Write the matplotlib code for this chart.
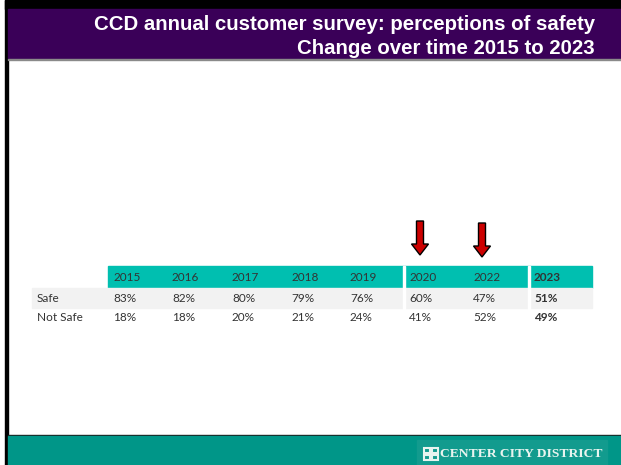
import matplotlib.pyplot as plt
from matplotlib.patches import Rectangle, FancyArrow

# survey data
years = ['2015', '2016', '2017', '2018', '2019', '2020', '2022', '2023']
safe = [83, 82, 80, 79, 76, 60, 47, 51]
not_safe = [18, 18, 20, 21, 24, 41, 52, 49]
row_labels = ['Safe', 'Not Safe']
arrow_years = ['2020', '2022']
title_lines = ['CCD annual customer survey: perceptions of safety',
               'Change over time 2015 to 2023']

W, H = 621, 465
fig = plt.figure(figsize=(W / 100, H / 100), dpi=100)
ax = fig.add_axes([0, 0, 1, 1])
ax.set_xlim(0, W)
ax.set_ylim(H, 0)
ax.axis('off')

# frame: top black band, left rule, purple header
ax.add_patch(Rectangle((5, 0), W - 5, 9, color='black'))
ax.add_patch(Rectangle((5, 0), 2.5, H, color='black'))
ax.add_patch(Rectangle((7.5, 9), W - 7.5, 50, color='#3a0058'))
ax.add_patch(Rectangle((7.5, 59), W - 7.5, 1.2, color='#8a8a8a'))
ax.text(595, 24, title_lines[0], color='white', ha='right', va='center',
        fontsize=14.7, fontweight='bold', family='Liberation Sans')
ax.text(595, 48.5, title_lines[1], color='white', ha='right', va='center',
        fontsize=14.7, fontweight='bold', family='Liberation Sans')

# footer band and logo
ax.add_patch(Rectangle((7.5, 434.5), W - 7.5, 1.5, color='#1a1a1a'))
ax.add_patch(Rectangle((7.5, 436), W - 7.5, H - 436, color='#009688'))
ax.add_patch(Rectangle((417, 440), 190, H - 440, color='#129b8e'))
for dx, dy in [(0, 0), (8, 0), (0, 7), (8, 7)]:
    ax.add_patch(Rectangle((424 + dx, 448 + dy), 5.5, 5, fill=False,
                           ec='#e8f4ef', lw=1.5))
ax.text(603, 454, 'CENTER CITY DISTRICT', color='#e8f4ef', ha='right',
        va='center', fontsize=9.7, fontweight='bold', family='Liberation Serif')

# table geometry
edges = [108, 167, 227, 286, 345, 404, 468, 529, 592]
label_x = 32
y_head, y_safe, y_not, y_end = 266, 288, 308, 327
txt = '#333333'
font = 'Lato'
fs = 8.5

ax.add_patch(Rectangle((edges[0], y_head), edges[-1] - edges[0], y_safe - y_head,
                       color='#00bfb0'))
ax.add_patch(Rectangle((label_x, y_safe), edges[-1] - label_x, y_not - y_safe,
                       color='#f2f2f2'))
for sep in [404, 529]:
    ax.add_patch(Rectangle((sep - 0.8, y_head), 1.6, y_end - y_head, color='white'))

ax.text(label_x + 5, (y_safe + y_not) / 2, row_labels[0], color=txt, va='center',
        fontsize=fs, family=font)
ax.text(label_x + 5, (y_not + y_end) / 2, row_labels[1], color=txt, va='center',
        fontsize=fs, family=font)

for i, yr in enumerate(years):
    x = edges[i] + 5
    w = 'bold' if yr == '2023' else 'normal'
    ax.text(x, (y_head + y_safe) / 2, yr, color=txt, va='center', fontsize=fs,
            family=font, fontweight=w)
    ax.text(x, (y_safe + y_not) / 2, f'{safe[i]}%', color=txt, va='center',
            fontsize=fs, family=font, fontweight=w)
    ax.text(x, (y_not + y_end) / 2, f'{not_safe[i]}%', color=txt, va='center',
            fontsize=fs, family=font, fontweight=w)

# red arrows above the covid-era columns
arrow_x = {'2020': 420, '2022': 482}
arrow_top = {'2020': 221, '2022': 223}
for yr in arrow_years:
    ax.add_patch(FancyArrow(arrow_x[yr], arrow_top[yr], 0, 34, width=7,
                            head_width=17, head_length=11,
                            length_includes_head=True, fc='#cc0000',
                            ec='black', lw=1))

fig.savefig('out.png', dpi=100)
